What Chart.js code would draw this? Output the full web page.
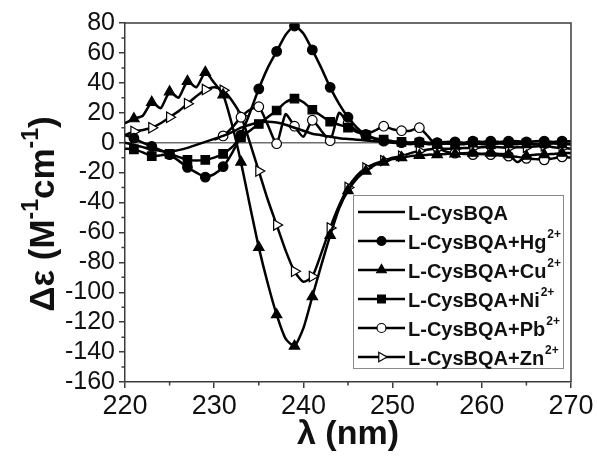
<!DOCTYPE html>
<html>
<head>
<meta charset="utf-8">
<script src="https://cdn.jsdelivr.net/npm/chart.js@4.4.1/dist/chart.umd.min.js"></script>
<style>
  html, body { margin: 0; padding: 0; background: #fff; }
  canvas { display: block; }
</style>
</head>
<body>
<canvas id="cdChart" width="597" height="461"></canvas>
<script>
// wavelength (nm)
const wavelength = [220, 221, 222, 223, 224, 225, 226, 227, 228, 229,
  230, 231, 232, 233, 234, 235, 236, 237, 238, 239,
  240, 241, 242, 243, 244, 245, 246, 247, 248, 249,
  250, 251, 252, 253, 254, 255, 256, 257, 258, 259,
  260, 261, 262, 263, 264, 265, 266, 267, 268, 269, 270];

const cysBQA = [0, -1.5, -3, -4.5, -5.5, -6, -5, -3.5, -1.5, 0.5,
  2.5, 4.5, 7, 10, 12, 13.5, 14, 13.5, 12, 10,
  8, 6, 5, 4, 3, 2.5, 2, 1.5, 1, 0.5,
  0, -0.5, -1, -0.5, -1, -1, -0.5, -1, -1, -0.5,
  -1, -1, -0.5, -1, -1, -0.5, -1, -1, -0.5, -1, -1];

const cysBQA_Hg = [5, 3, 0, -2.5, -5, -8, -12, -16.5, -20, -23,
  -21, -16, -7, 5, 20, 36, 50, 61, 72, 78,
  73, 62, 50, 37, 26, 17, 10, 5, 2.5, 1,
  0.5, 0, 0, 0.5, 0, 0, 0.5, 0.5, 0, 1,
  0.5, 1, 0.5, 1, 1, 0.5, 1, 1, 0.5, 1, 1];

const cysBQA_Cu = [13, 16, 18, 27, 23, 34, 30, 41, 37, 47,
  40, 32, 12, -13, -42, -70, -94, -115, -131, -136,
  -124, -103, -82, -62, -44, -32, -24, -19, -15, -13,
  -11, -10, -9, -8.5, -8, -8, -7.5, -7.5, -7, -7,
  -7.5, -7, -7.5, -8, -13, -9, -8, -8, -7.5, -7, -7];

const cysBQA_Ni = [-4, -4.5, -6.5, -9, -8.5, -7.5, -9.5, -11.5, -12, -11.5,
  -10, -7.5, -3, 3.5, 8, 12.5, 17, 21.5, 27, 29.5,
  27, 22, 18, 14, 12, 10, 7, 5, 3, 2,
  1, 0.5, 0, 0, -0.5, -1, -0.5, -1, -0.5, 0,
  -0.5, -1, 0, -0.5, 0, -0.5, -1, -0.5, 0, -0.5, -1];

const cysBQA_Pb = [null, null, null, null, null, null, null, null, null, null,
  2, 4.5, 10, 17, 22, 24, 12, -0.7, 19, 11,
  4, 15, 8, 1.3, 20, 13, 8, 5.5, 8, 11,
  9, 8, 8, 10, 4, -3, -6, -7, -7.5, -8,
  -7.5, -8, -8.5, -9, -9.5, -10.5, -11, -11.5, -10.5, -9.5, -10];

const cysBQA_Zn = [5, 7.5, 8.5, 10, 13, 17, 21, 26, 31, 35.5,
  37, 35, 28, 18, 0, -19, -38, -55, -72, -86,
  -93, -89.5, -74, -57, -42, -30, -22, -17, -14, -12,
  -10, -9, -7, -5.5, -4.5, -4, -4, -4, -3.5, -3.5,
  -3, -3, -3, -3.5, -3, -3, -2.5, -2, -3, -3.5, -4];

const xTicks = [220, 230, 240, 250, 260, 270];
const yTicks = [80, 60, 40, 20, 0, -20, -40, -60, -80, -100, -120, -140, -160];

const FONT = '"Liberation Sans", Arial, sans-serif';
const AXIS_COLOR = '#3c3c3c';

// legend entries: [main text, superscript, marker]
const legendItems = [
  ['L-CysBQA', '', null],
  ['L-CysBQA+Hg', '2+', { style: 'circle', fill: '#000' }],
  ['L-CysBQA+Cu', '2+', { style: 'triangle', fill: '#000' }],
  ['L-CysBQA+Ni', '2+', { style: 'rect', fill: '#000' }],
  ['L-CysBQA+Pb', '2+', { style: 'circle', fill: '#fff' }],
  ['L-CysBQA+Zn', '2+', { style: 'triangle', fill: '#fff', rot: 90 }]
];

function toPoints(values) {
  return wavelength.map((x, i) => ({ x: x, y: values[i] }));
}

// markers only on every second wavelength, like the original plot
function markerSize(r) {
  return function(ctx) {
    const p = ctx.raw;
    if (!p || p.y === null) return 0;
    return p.x % 2 === 1 ? r : 0;
  };
}

function series(label, values, marker) {
  const ds = {
    label: label,
    data: toPoints(values),
    borderColor: '#000',
    borderWidth: 2.5,
    tension: 0.2,
    spanGaps: false,
    pointRadius: 0,
    pointHoverRadius: 0
  };
  if (marker) {
    const r = marker.style === 'circle' ? 4.8 : 6;
    ds.pointStyle = marker.style;
    ds.pointRadius = markerSize(r);
    ds.pointBackgroundColor = marker.fill;
    ds.pointBorderColor = '#000';
    ds.pointBorderWidth = 1.2;
    ds.pointRotation = marker.rot || 0;
  }
  return ds;
}

function drawMarker(ctx, m, x, y) {
  ctx.save();
  ctx.fillStyle = m.fill;
  ctx.strokeStyle = '#000';
  ctx.lineWidth = 1.2;
  ctx.beginPath();
  if (m.style === 'circle') {
    ctx.arc(x, y, 4.5, 0, Math.PI * 2);
  } else if (m.style === 'rect') {
    const s = 5.5 * Math.SQRT1_2;
    ctx.rect(x - s, y - s, 2 * s, 2 * s);
  } else {
    let a = (m.rot || 0) * Math.PI / 180;
    const r = 5.5;
    ctx.moveTo(x + Math.sin(a) * r, y - Math.cos(a) * r);
    a += 2 * Math.PI / 3;
    ctx.lineTo(x + Math.sin(a) * r, y - Math.cos(a) * r);
    a += 2 * Math.PI / 3;
    ctx.lineTo(x + Math.sin(a) * r, y - Math.cos(a) * r);
    ctx.closePath();
  }
  ctx.fill();
  ctx.stroke();
  ctx.restore();
}

const decorations = {
  id: 'decorations',
  beforeDatasetsDraw(chart) {
    const { ctx, chartArea: a, scales } = chart;
    const y0 = scales.y.getPixelForValue(0);
    ctx.save();
    ctx.strokeStyle = '#6e6e6e';
    ctx.lineWidth = 1.5;
    ctx.beginPath();
    ctx.moveTo(a.left, y0);
    ctx.lineTo(a.right, y0);
    ctx.stroke();
    ctx.restore();
  },
  afterDraw(chart) {
    const { ctx, chartArea: a, scales } = chart;
    ctx.save();
    // frame top/right
    ctx.strokeStyle = AXIS_COLOR;
    ctx.lineWidth = 1.5;
    ctx.beginPath();
    ctx.moveTo(a.left, a.top);
    ctx.lineTo(a.right, a.top);
    ctx.lineTo(a.right, a.bottom);
    ctx.stroke();

    // minor ticks
    ctx.beginPath();
    for (let v = -150; v <= 70; v += 20) {
      const py = scales.y.getPixelForValue(v);
      ctx.moveTo(a.left - 3.5, py);
      ctx.lineTo(a.left, py);
    }
    for (let v = 225; v <= 265; v += 10) {
      const px = scales.x.getPixelForValue(v);
      ctx.moveTo(px, a.bottom);
      ctx.lineTo(px, a.bottom + 3.5);
    }
    ctx.stroke();

    // legend
    const bx = 353.5, by = 195.5, bw = 210, bh = 173;
    ctx.fillStyle = '#fff';
    ctx.fillRect(bx, by, bw, bh);
    ctx.strokeStyle = '#8a8a8a';
    ctx.lineWidth = 1;
    ctx.strokeRect(bx, by, bw, bh);
    legendItems.forEach((item, i) => {
      const ry = 212 + i * 29;
      ctx.strokeStyle = '#000';
      ctx.lineWidth = 2.5;
      ctx.beginPath();
      ctx.moveTo(358, ry);
      ctx.lineTo(405, ry);
      ctx.stroke();
      if (item[2]) drawMarker(ctx, item[2], 381.5, ry);
      ctx.fillStyle = '#111';
      ctx.textBaseline = 'alphabetic';
      ctx.textAlign = 'left';
      ctx.font = 'bold 20px ' + FONT;
      ctx.fillText(item[0], 408, ry + 7.5);
      if (item[1]) {
        const w = ctx.measureText(item[0]).width;
        ctx.font = 'bold 12px ' + FONT;
        ctx.fillText(item[1], 408 + w + 1, ry - 3);
      }
    });

    // x title
    ctx.fillStyle = '#111';
    ctx.font = 'bold 34px ' + FONT;
    ctx.textAlign = 'center';
    ctx.textBaseline = 'alphabetic';
    ctx.fillText('\u03bb (nm)', (a.left + a.right) / 2, 444);

    // y title with superscripts
    const parts = [
      ['\u0394\u03b5 (M', 0], ['-1', 1], ['cm', 0], ['-1', 1], [')', 0]
    ];
    const mainFont = 'bold 35px ' + FONT;
    const supFont = 'bold 23px ' + FONT;
    let total = 0;
    parts.forEach(p => {
      ctx.font = p[1] ? supFont : mainFont;
      p.push(ctx.measureText(p[0]).width);
      total += p[2];
    });
    ctx.translate(54, 214);
    ctx.rotate(-Math.PI / 2);
    ctx.textAlign = 'left';
    let cx = -total / 2;
    parts.forEach(p => {
      ctx.font = p[1] ? supFont : mainFont;
      ctx.fillText(p[0], cx, p[1] ? -16 : 0);
      cx += p[2];
    });
    ctx.restore();
  }
};

const cdChart = new Chart(document.getElementById('cdChart'), {
  type: 'line',
  data: {
    datasets: [
      series('L-CysBQA', cysBQA, null),
      series('L-CysBQA+Hg2+', cysBQA_Hg, legendItems[1][2]),
      series('L-CysBQA+Cu2+', cysBQA_Cu, legendItems[2][2]),
      series('L-CysBQA+Ni2+', cysBQA_Ni, legendItems[3][2]),
      series('L-CysBQA+Pb2+', cysBQA_Pb, legendItems[4][2]),
      series('L-CysBQA+Zn2+', cysBQA_Zn, legendItems[5][2])
    ]
  },
  options: {
    responsive: false,
    animation: false,
    events: [],
    layout: { padding: { left: 0, top: 23, right: 26, bottom: 0 } },
    plugins: { legend: { display: false }, tooltip: { enabled: false } },
    scales: {
      x: {
        type: 'linear',
        min: 220,
        max: 270,
        afterBuildTicks(scale) { scale.ticks = xTicks.map(v => ({ value: v })); },
        afterFit(scale) { scale.height = 79; },
        ticks: { color: '#111', font: { family: FONT, size: 27 }, padding: 2, maxRotation: 0, autoSkip: false },
        grid: { drawOnChartArea: false, tickLength: 6, color: AXIS_COLOR, lineWidth: 1.5 },
        border: { color: AXIS_COLOR, width: 1.5 }
      },
      y: {
        min: -160,
        max: 80,
        afterBuildTicks(scale) { scale.ticks = yTicks.map(v => ({ value: v })); },
        afterFit(scale) { scale.width = 125; },
        ticks: { color: '#111', font: { family: FONT, size: 25 }, padding: 4, autoSkip: false },
        grid: { drawOnChartArea: false, tickLength: 6, color: AXIS_COLOR, lineWidth: 1.5 },
        border: { color: AXIS_COLOR, width: 1.5 }
      }
    }
  },
  plugins: [decorations]
});
</script>
</body>
</html>
